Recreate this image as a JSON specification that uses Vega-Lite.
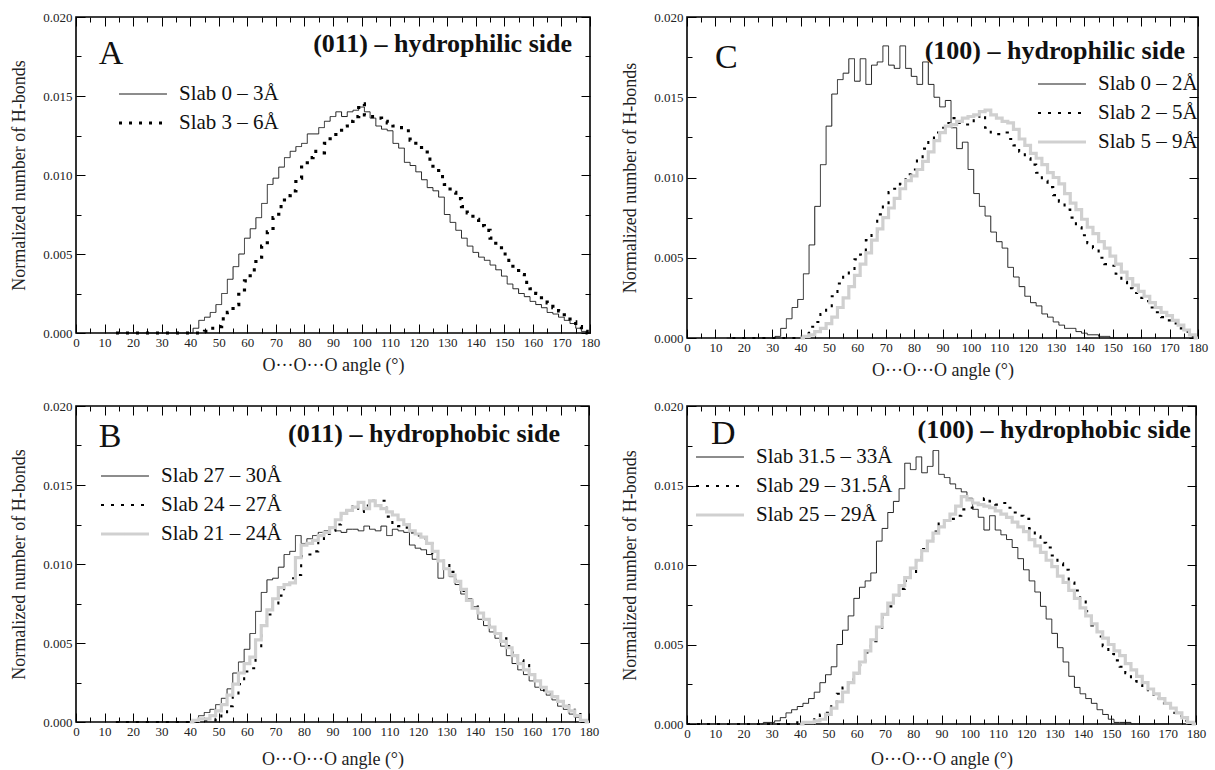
{
"$schema": "https://vega.github.io/schema/vega-lite/v6.json",
"background": "white",
"padding": {"left": 9, "top": 10, "right": 0, "bottom": 0},
"config": {
  "font": "Liberation Serif",
  "view": {"stroke": "#000", "strokeWidth": 1.6},
  "axis": {"grid": false, "domain": false, "labelFlush": false, "labelOverlap": false, "tickColor": "#000", "tickWidth": 1, "labelFont": "Liberation Serif", "labelFontSize": 13, "labelColor": "#222", "titleFont": "Liberation Serif", "titleFontSize": 18, "titleFontWeight": "normal", "titleColor": "#222"},
  "legend": {"symbolType": "stroke", "symbolSize": 2300, "labelFont": "Liberation Serif", "labelFontSize": 21, "labelColor": "#111", "labelOffset": 10, "clipHeight": 20, "rowPadding": 8, "padding": 0, "labelLimit": 300}
},
"resolve": {"scale": {"color": "independent", "strokeDash": "independent", "strokeWidth": "independent"}},
"datasets": {
"A": [
{"s":1,"x":14,"y":0},{"s":1,"x":16,"y":0},{"s":1,"x":18,"y":0},{"s":1,"x":20,"y":0},{"s":1,"x":22,"y":0},{"s":1,"x":24,"y":0},{"s":1,"x":26,"y":0},{"s":1,"x":28,"y":0},{"s":1,"x":30,"y":0},{"s":1,"x":32,"y":0},{"s":1,"x":34,"y":0},{"s":1,"x":36,"y":0},{"s":1,"x":38,"y":0},{"s":1,"x":40,"y":0},
{"s":1,"x":42,"y":0.0003},{"s":1,"x":44,"y":0.0008},{"s":1,"x":46,"y":0.0010},{"s":1,"x":48,"y":0.0013},{"s":1,"x":50,"y":0.0018},{"s":1,"x":52,"y":0.0025},{"s":1,"x":54,"y":0.0034},{"s":1,"x":56,"y":0.0042},{"s":1,"x":58,"y":0.0050},{"s":1,"x":60,"y":0.0060},{"s":1,"x":62,"y":0.0066},{"s":1,"x":64,"y":0.0073},{"s":1,"x":66,"y":0.0082},{"s":1,"x":68,"y":0.0094},{"s":1,"x":70,"y":0.0098},{"s":1,"x":72,"y":0.0105},{"s":1,"x":74,"y":0.0111},{"s":1,"x":76,"y":0.0115},{"s":1,"x":78,"y":0.0118},{"s":1,"x":80,"y":0.0120},{"s":1,"x":82,"y":0.0126},{"s":1,"x":84,"y":0.0126},{"s":1,"x":86,"y":0.0130},{"s":1,"x":88,"y":0.0134},{"s":1,"x":90,"y":0.0137},{"s":1,"x":92,"y":0.0140},{"s":1,"x":94,"y":0.0137},{"s":1,"x":96,"y":0.0140},{"s":1,"x":98,"y":0.0141},{"s":1,"x":100,"y":0.0143},{"s":1,"x":102,"y":0.0140},{"s":1,"x":104,"y":0.0136},{"s":1,"x":106,"y":0.0131},{"s":1,"x":108,"y":0.0129},{"s":1,"x":110,"y":0.0128},{"s":1,"x":112,"y":0.0120},{"s":1,"x":114,"y":0.0117},{"s":1,"x":116,"y":0.0108},{"s":1,"x":118,"y":0.0106},{"s":1,"x":120,"y":0.0102},{"s":1,"x":122,"y":0.0097},{"s":1,"x":124,"y":0.0092},{"s":1,"x":126,"y":0.0090},{"s":1,"x":128,"y":0.0086},{"s":1,"x":130,"y":0.0075},{"s":1,"x":132,"y":0.0070},{"s":1,"x":134,"y":0.0065},{"s":1,"x":136,"y":0.0060},{"s":1,"x":138,"y":0.0055},{"s":1,"x":140,"y":0.0051},{"s":1,"x":142,"y":0.0048},{"s":1,"x":144,"y":0.0046},{"s":1,"x":146,"y":0.0043},{"s":1,"x":148,"y":0.0040},{"s":1,"x":150,"y":0.0036},{"s":1,"x":152,"y":0.0031},{"s":1,"x":154,"y":0.0028},{"s":1,"x":156,"y":0.0025},{"s":1,"x":158,"y":0.0023},{"s":1,"x":160,"y":0.0020},{"s":1,"x":162,"y":0.0018},{"s":1,"x":164,"y":0.0016},{"s":1,"x":166,"y":0.0013},{"s":1,"x":168,"y":0.0012},{"s":1,"x":170,"y":0.0010},{"s":1,"x":172,"y":0.0008},{"s":1,"x":174,"y":0.0006},{"s":1,"x":176,"y":0.0003},{"s":1,"x":178,"y":0.0001},{"s":1,"x":180,"y":0},
{"s":2,"x":14,"y":0},{"s":2,"x":16,"y":0},{"s":2,"x":18,"y":0},{"s":2,"x":20,"y":0},{"s":2,"x":22,"y":0},{"s":2,"x":24,"y":0},{"s":2,"x":26,"y":0},{"s":2,"x":28,"y":0},{"s":2,"x":30,"y":0},{"s":2,"x":32,"y":0},{"s":2,"x":34,"y":0},{"s":2,"x":36,"y":0},{"s":2,"x":38,"y":0},{"s":2,"x":40,"y":0},{"s":2,"x":42,"y":0},{"s":2,"x":44,"y":0},
{"s":2,"x":46,"y":0.0001},{"s":2,"x":48,"y":0.0003},{"s":2,"x":50,"y":0.0004},{"s":2,"x":52,"y":0.0009},{"s":2,"x":54,"y":0.0013},{"s":2,"x":56,"y":0.0018},{"s":2,"x":58,"y":0.0026},{"s":2,"x":60,"y":0.0033},{"s":2,"x":62,"y":0.0040},{"s":2,"x":64,"y":0.0048},{"s":2,"x":66,"y":0.0055},{"s":2,"x":68,"y":0.0064},{"s":2,"x":70,"y":0.0073},{"s":2,"x":72,"y":0.0080},{"s":2,"x":74,"y":0.0087},{"s":2,"x":76,"y":0.0090},{"s":2,"x":78,"y":0.0098},{"s":2,"x":80,"y":0.0106},{"s":2,"x":82,"y":0.0111},{"s":2,"x":84,"y":0.0115},{"s":2,"x":86,"y":0.0114},{"s":2,"x":88,"y":0.0120},{"s":2,"x":90,"y":0.0124},{"s":2,"x":92,"y":0.0127},{"s":2,"x":94,"y":0.0131},{"s":2,"x":96,"y":0.0134},{"s":2,"x":98,"y":0.0137},{"s":2,"x":100,"y":0.0145},{"s":2,"x":102,"y":0.0138},{"s":2,"x":104,"y":0.0137},{"s":2,"x":106,"y":0.0136},{"s":2,"x":108,"y":0.0134},{"s":2,"x":110,"y":0.0133},{"s":2,"x":112,"y":0.0131},{"s":2,"x":114,"y":0.0130},{"s":2,"x":116,"y":0.0128},{"s":2,"x":118,"y":0.0122},{"s":2,"x":120,"y":0.0119},{"s":2,"x":122,"y":0.0116},{"s":2,"x":124,"y":0.0110},{"s":2,"x":126,"y":0.0104},{"s":2,"x":128,"y":0.0099},{"s":2,"x":130,"y":0.0094},{"s":2,"x":132,"y":0.0089},{"s":2,"x":134,"y":0.0085},{"s":2,"x":136,"y":0.0080},{"s":2,"x":138,"y":0.0076},{"s":2,"x":140,"y":0.0072},{"s":2,"x":142,"y":0.0068},{"s":2,"x":144,"y":0.0065},{"s":2,"x":146,"y":0.0060},{"s":2,"x":148,"y":0.0055},{"s":2,"x":150,"y":0.0050},{"s":2,"x":152,"y":0.0046},{"s":2,"x":154,"y":0.0041},{"s":2,"x":156,"y":0.0037},{"s":2,"x":158,"y":0.0032},{"s":2,"x":160,"y":0.0028},{"s":2,"x":162,"y":0.0025},{"s":2,"x":164,"y":0.0021},{"s":2,"x":166,"y":0.0019},{"s":2,"x":168,"y":0.0016},{"s":2,"x":170,"y":0.0014},{"s":2,"x":172,"y":0.0010},{"s":2,"x":174,"y":0.0007},{"s":2,"x":176,"y":0.0004},{"s":2,"x":178,"y":0.0001},{"s":2,"x":180,"y":0}
],
"B": [
{"s":1,"x":14,"y":0},{"s":1,"x":16,"y":0},{"s":1,"x":18,"y":0},{"s":1,"x":20,"y":0},{"s":1,"x":22,"y":0},{"s":1,"x":24,"y":0},{"s":1,"x":26,"y":0},{"s":1,"x":28,"y":0},{"s":1,"x":30,"y":0},{"s":1,"x":32,"y":0},{"s":1,"x":34,"y":0},{"s":1,"x":36,"y":0},{"s":1,"x":38,"y":0},{"s":1,"x":40,"y":0},
{"s":1,"x":42,"y":0.0001},{"s":1,"x":44,"y":0.0004},{"s":1,"x":46,"y":0.0006},{"s":1,"x":48,"y":0.0008},{"s":1,"x":50,"y":0.0011},{"s":1,"x":52,"y":0.0015},{"s":1,"x":54,"y":0.0021},{"s":1,"x":56,"y":0.0031},{"s":1,"x":58,"y":0.0038},{"s":1,"x":60,"y":0.0046},{"s":1,"x":62,"y":0.0056},{"s":1,"x":64,"y":0.0070},{"s":1,"x":66,"y":0.0082},{"s":1,"x":68,"y":0.0090},{"s":1,"x":70,"y":0.0091},{"s":1,"x":72,"y":0.0098},{"s":1,"x":74,"y":0.0106},{"s":1,"x":76,"y":0.0108},{"s":1,"x":78,"y":0.0118},{"s":1,"x":80,"y":0.0113},{"s":1,"x":82,"y":0.0116},{"s":1,"x":84,"y":0.0118},{"s":1,"x":86,"y":0.0120},{"s":1,"x":88,"y":0.0121},{"s":1,"x":90,"y":0.0123},{"s":1,"x":92,"y":0.0121},{"s":1,"x":94,"y":0.0120},{"s":1,"x":96,"y":0.0122},{"s":1,"x":98,"y":0.0122},{"s":1,"x":100,"y":0.0121},{"s":1,"x":102,"y":0.0124},{"s":1,"x":104,"y":0.0122},{"s":1,"x":106,"y":0.0121},{"s":1,"x":108,"y":0.0124},{"s":1,"x":110,"y":0.0118},{"s":1,"x":112,"y":0.0122},{"s":1,"x":114,"y":0.0121},{"s":1,"x":116,"y":0.0120},{"s":1,"x":118,"y":0.0112},{"s":1,"x":120,"y":0.0110},{"s":1,"x":122,"y":0.0109},{"s":1,"x":124,"y":0.0106},{"s":1,"x":126,"y":0.0103},{"s":1,"x":128,"y":0.0091},{"s":1,"x":130,"y":0.0097},{"s":1,"x":132,"y":0.0092},{"s":1,"x":134,"y":0.0087},{"s":1,"x":136,"y":0.0081},{"s":1,"x":138,"y":0.0078},{"s":1,"x":140,"y":0.0073},{"s":1,"x":142,"y":0.0065},{"s":1,"x":144,"y":0.0061},{"s":1,"x":146,"y":0.0057},{"s":1,"x":148,"y":0.0053},{"s":1,"x":150,"y":0.0048},{"s":1,"x":152,"y":0.0042},{"s":1,"x":154,"y":0.0037},{"s":1,"x":156,"y":0.0033},{"s":1,"x":158,"y":0.0030},{"s":1,"x":160,"y":0.0026},{"s":1,"x":162,"y":0.0022},{"s":1,"x":164,"y":0.0020},{"s":1,"x":166,"y":0.0017},{"s":1,"x":168,"y":0.0014},{"s":1,"x":170,"y":0.0010},{"s":1,"x":172,"y":0.0008},{"s":1,"x":174,"y":0.0005},{"s":1,"x":176,"y":0.0003},{"s":1,"x":178,"y":0.0001},{"s":1,"x":180,"y":0},
{"s":2,"x":14,"y":0},{"s":2,"x":16,"y":0},{"s":2,"x":18,"y":0},{"s":2,"x":20,"y":0},{"s":2,"x":22,"y":0},{"s":2,"x":24,"y":0},{"s":2,"x":26,"y":0},{"s":2,"x":28,"y":0},{"s":2,"x":30,"y":0},{"s":2,"x":32,"y":0},{"s":2,"x":34,"y":0},{"s":2,"x":36,"y":0},{"s":2,"x":38,"y":0},{"s":2,"x":40,"y":0},{"s":2,"x":42,"y":0},{"s":2,"x":44,"y":0},
{"s":2,"x":46,"y":0.0001},{"s":2,"x":48,"y":0.0001},{"s":2,"x":50,"y":0.0002},{"s":2,"x":52,"y":0.0005},{"s":2,"x":54,"y":0.0010},{"s":2,"x":56,"y":0.0016},{"s":2,"x":58,"y":0.0024},{"s":2,"x":60,"y":0.0032},{"s":2,"x":62,"y":0.0034},{"s":2,"x":64,"y":0.0046},{"s":2,"x":66,"y":0.0061},{"s":2,"x":68,"y":0.0068},{"s":2,"x":70,"y":0.0075},{"s":2,"x":72,"y":0.0080},{"s":2,"x":74,"y":0.0087},{"s":2,"x":76,"y":0.0091},{"s":2,"x":78,"y":0.0093},{"s":2,"x":80,"y":0.0105},{"s":2,"x":82,"y":0.0106},{"s":2,"x":84,"y":0.0108},{"s":2,"x":86,"y":0.0114},{"s":2,"x":88,"y":0.0119},{"s":2,"x":90,"y":0.0121},{"s":2,"x":92,"y":0.0125},{"s":2,"x":94,"y":0.0131},{"s":2,"x":96,"y":0.0134},{"s":2,"x":98,"y":0.0137},{"s":2,"x":100,"y":0.0133},{"s":2,"x":102,"y":0.0137},{"s":2,"x":104,"y":0.0140},{"s":2,"x":106,"y":0.0137},{"s":2,"x":108,"y":0.0140},{"s":2,"x":110,"y":0.0130},{"s":2,"x":112,"y":0.0126},{"s":2,"x":114,"y":0.0124},{"s":2,"x":116,"y":0.0123},{"s":2,"x":118,"y":0.0120},{"s":2,"x":120,"y":0.0118},{"s":2,"x":122,"y":0.0116},{"s":2,"x":124,"y":0.0113},{"s":2,"x":126,"y":0.0105},{"s":2,"x":128,"y":0.0103},{"s":2,"x":130,"y":0.0100},{"s":2,"x":132,"y":0.0095},{"s":2,"x":134,"y":0.0090},{"s":2,"x":136,"y":0.0083},{"s":2,"x":138,"y":0.0078},{"s":2,"x":140,"y":0.0073},{"s":2,"x":142,"y":0.0069},{"s":2,"x":144,"y":0.0065},{"s":2,"x":146,"y":0.0061},{"s":2,"x":148,"y":0.0058},{"s":2,"x":150,"y":0.0053},{"s":2,"x":152,"y":0.0048},{"s":2,"x":154,"y":0.0044},{"s":2,"x":156,"y":0.0039},{"s":2,"x":158,"y":0.0036},{"s":2,"x":160,"y":0.0030},{"s":2,"x":162,"y":0.0025},{"s":2,"x":164,"y":0.0020},{"s":2,"x":166,"y":0.0018},{"s":2,"x":168,"y":0.0017},{"s":2,"x":170,"y":0.0015},{"s":2,"x":172,"y":0.0012},{"s":2,"x":174,"y":0.0009},{"s":2,"x":176,"y":0.0005},{"s":2,"x":178,"y":0.0001},{"s":2,"x":180,"y":0},
{"s":3,"x":40,"y":0},{"s":3,"x":42,"y":0.0001},{"s":3,"x":44,"y":0.0002},{"s":3,"x":46,"y":0.0002},{"s":3,"x":48,"y":0.0004},{"s":3,"x":50,"y":0.0007},{"s":3,"x":52,"y":0.0011},{"s":3,"x":54,"y":0.0017},{"s":3,"x":56,"y":0.0024},{"s":3,"x":58,"y":0.0031},{"s":3,"x":60,"y":0.0037},{"s":3,"x":62,"y":0.0041},{"s":3,"x":64,"y":0.0052},{"s":3,"x":66,"y":0.0061},{"s":3,"x":68,"y":0.0071},{"s":3,"x":70,"y":0.0078},{"s":3,"x":72,"y":0.0085},{"s":3,"x":74,"y":0.0087},{"s":3,"x":76,"y":0.0088},{"s":3,"x":78,"y":0.0104},{"s":3,"x":80,"y":0.0112},{"s":3,"x":82,"y":0.0113},{"s":3,"x":84,"y":0.0115},{"s":3,"x":86,"y":0.0118},{"s":3,"x":88,"y":0.0120},{"s":3,"x":90,"y":0.0123},{"s":3,"x":92,"y":0.0128},{"s":3,"x":94,"y":0.0132},{"s":3,"x":96,"y":0.0134},{"s":3,"x":98,"y":0.0136},{"s":3,"x":100,"y":0.0139},{"s":3,"x":102,"y":0.0135},{"s":3,"x":104,"y":0.0140},{"s":3,"x":106,"y":0.0137},{"s":3,"x":108,"y":0.0135},{"s":3,"x":110,"y":0.0133},{"s":3,"x":112,"y":0.0131},{"s":3,"x":114,"y":0.0128},{"s":3,"x":116,"y":0.0125},{"s":3,"x":118,"y":0.0121},{"s":3,"x":120,"y":0.0119},{"s":3,"x":122,"y":0.0117},{"s":3,"x":124,"y":0.0113},{"s":3,"x":126,"y":0.0108},{"s":3,"x":128,"y":0.0102},{"s":3,"x":130,"y":0.0097},{"s":3,"x":132,"y":0.0093},{"s":3,"x":134,"y":0.0089},{"s":3,"x":136,"y":0.0084},{"s":3,"x":138,"y":0.0077},{"s":3,"x":140,"y":0.0072},{"s":3,"x":142,"y":0.0069},{"s":3,"x":144,"y":0.0065},{"s":3,"x":146,"y":0.0060},{"s":3,"x":148,"y":0.0056},{"s":3,"x":150,"y":0.0051},{"s":3,"x":152,"y":0.0047},{"s":3,"x":154,"y":0.0042},{"s":3,"x":156,"y":0.0037},{"s":3,"x":158,"y":0.0033},{"s":3,"x":160,"y":0.0030},{"s":3,"x":162,"y":0.0026},{"s":3,"x":164,"y":0.0022},{"s":3,"x":166,"y":0.0019},{"s":3,"x":168,"y":0.0016},{"s":3,"x":170,"y":0.0013},{"s":3,"x":172,"y":0.0010},{"s":3,"x":174,"y":0.0007},{"s":3,"x":176,"y":0.0004},{"s":3,"x":178,"y":0.0001},{"s":3,"x":180,"y":0}
],
"C": [
{"s":1,"x":14,"y":0},{"s":1,"x":16,"y":0},{"s":1,"x":18,"y":0},{"s":1,"x":20,"y":0},{"s":1,"x":22,"y":0},{"s":1,"x":24,"y":0},{"s":1,"x":26,"y":0},{"s":1,"x":28,"y":0},{"s":1,"x":30,"y":0},
{"s":1,"x":32,"y":0.0001},{"s":1,"x":34,"y":0.0006},{"s":1,"x":36,"y":0.0012},{"s":1,"x":38,"y":0.0019},{"s":1,"x":40,"y":0.0024},{"s":1,"x":42,"y":0.0040},{"s":1,"x":44,"y":0.0058},{"s":1,"x":46,"y":0.0082},{"s":1,"x":48,"y":0.0108},{"s":1,"x":50,"y":0.0132},{"s":1,"x":52,"y":0.0152},{"s":1,"x":54,"y":0.0161},{"s":1,"x":56,"y":0.0165},{"s":1,"x":58,"y":0.0174},{"s":1,"x":60,"y":0.0160},{"s":1,"x":62,"y":0.0174},{"s":1,"x":64,"y":0.0158},{"s":1,"x":66,"y":0.0170},{"s":1,"x":68,"y":0.0172},{"s":1,"x":70,"y":0.0182},{"s":1,"x":72,"y":0.0170},{"s":1,"x":74,"y":0.0168},{"s":1,"x":76,"y":0.0182},{"s":1,"x":78,"y":0.0168},{"s":1,"x":80,"y":0.0163},{"s":1,"x":82,"y":0.0158},{"s":1,"x":84,"y":0.0172},{"s":1,"x":86,"y":0.0158},{"s":1,"x":88,"y":0.0150},{"s":1,"x":90,"y":0.0144},{"s":1,"x":92,"y":0.0148},{"s":1,"x":94,"y":0.0131},{"s":1,"x":96,"y":0.0118},{"s":1,"x":98,"y":0.0122},{"s":1,"x":100,"y":0.0105},{"s":1,"x":102,"y":0.0090},{"s":1,"x":104,"y":0.0082},{"s":1,"x":106,"y":0.0076},{"s":1,"x":108,"y":0.0066},{"s":1,"x":110,"y":0.0060},{"s":1,"x":112,"y":0.0056},{"s":1,"x":114,"y":0.0044},{"s":1,"x":116,"y":0.0038},{"s":1,"x":118,"y":0.0032},{"s":1,"x":120,"y":0.0026},{"s":1,"x":122,"y":0.0022},{"s":1,"x":124,"y":0.0020},{"s":1,"x":126,"y":0.0015},{"s":1,"x":128,"y":0.0013},{"s":1,"x":130,"y":0.0010},{"s":1,"x":132,"y":0.0008},{"s":1,"x":134,"y":0.0006},{"s":1,"x":136,"y":0.0006},{"s":1,"x":138,"y":0.0004},{"s":1,"x":140,"y":0.0003},{"s":1,"x":142,"y":0.0002},{"s":1,"x":144,"y":0.0002},{"s":1,"x":146,"y":0.0001},{"s":1,"x":148,"y":0.0001},{"s":1,"x":150,"y":0},{"s":1,"x":152,"y":0},{"s":1,"x":154,"y":0},{"s":1,"x":156,"y":0},{"s":1,"x":158,"y":0},{"s":1,"x":160,"y":0},
{"s":2,"x":16,"y":0},{"s":2,"x":18,"y":0},{"s":2,"x":20,"y":0},{"s":2,"x":22,"y":0},{"s":2,"x":24,"y":0},{"s":2,"x":26,"y":0},{"s":2,"x":28,"y":0},{"s":2,"x":30,"y":0},{"s":2,"x":32,"y":0},{"s":2,"x":34,"y":0},{"s":2,"x":36,"y":0},{"s":2,"x":38,"y":0},
{"s":2,"x":40,"y":0.0001},{"s":2,"x":42,"y":0.0003},{"s":2,"x":44,"y":0.0007},{"s":2,"x":46,"y":0.0010},{"s":2,"x":48,"y":0.0015},{"s":2,"x":50,"y":0.0019},{"s":2,"x":52,"y":0.0026},{"s":2,"x":54,"y":0.0034},{"s":2,"x":56,"y":0.0039},{"s":2,"x":58,"y":0.0042},{"s":2,"x":60,"y":0.0049},{"s":2,"x":62,"y":0.0052},{"s":2,"x":64,"y":0.0061},{"s":2,"x":66,"y":0.0066},{"s":2,"x":68,"y":0.0077},{"s":2,"x":70,"y":0.0083},{"s":2,"x":72,"y":0.0091},{"s":2,"x":74,"y":0.0093},{"s":2,"x":76,"y":0.0096},{"s":2,"x":78,"y":0.0102},{"s":2,"x":80,"y":0.0105},{"s":2,"x":82,"y":0.0112},{"s":2,"x":84,"y":0.0118},{"s":2,"x":86,"y":0.0123},{"s":2,"x":88,"y":0.0128},{"s":2,"x":90,"y":0.0131},{"s":2,"x":92,"y":0.0134},{"s":2,"x":94,"y":0.0137},{"s":2,"x":96,"y":0.0134},{"s":2,"x":98,"y":0.0133},{"s":2,"x":100,"y":0.0134},{"s":2,"x":102,"y":0.0137},{"s":2,"x":104,"y":0.0139},{"s":2,"x":106,"y":0.0131},{"s":2,"x":108,"y":0.0128},{"s":2,"x":110,"y":0.0127},{"s":2,"x":112,"y":0.0128},{"s":2,"x":114,"y":0.0124},{"s":2,"x":116,"y":0.0120},{"s":2,"x":118,"y":0.0116},{"s":2,"x":120,"y":0.0112},{"s":2,"x":122,"y":0.0108},{"s":2,"x":124,"y":0.0103},{"s":2,"x":126,"y":0.0098},{"s":2,"x":128,"y":0.0094},{"s":2,"x":130,"y":0.0089},{"s":2,"x":132,"y":0.0085},{"s":2,"x":134,"y":0.0080},{"s":2,"x":136,"y":0.0075},{"s":2,"x":138,"y":0.0069},{"s":2,"x":140,"y":0.0064},{"s":2,"x":142,"y":0.0059},{"s":2,"x":144,"y":0.0056},{"s":2,"x":146,"y":0.0050},{"s":2,"x":148,"y":0.0046},{"s":2,"x":150,"y":0.0045},{"s":2,"x":152,"y":0.0040},{"s":2,"x":154,"y":0.0035},{"s":2,"x":156,"y":0.0031},{"s":2,"x":158,"y":0.0028},{"s":2,"x":160,"y":0.0025},{"s":2,"x":162,"y":0.0023},{"s":2,"x":164,"y":0.0019},{"s":2,"x":166,"y":0.0016},{"s":2,"x":168,"y":0.0013},{"s":2,"x":170,"y":0.0011},{"s":2,"x":172,"y":0.0009},{"s":2,"x":174,"y":0.0006},{"s":2,"x":176,"y":0.0004},{"s":2,"x":178,"y":0.0001},{"s":2,"x":180,"y":0},
{"s":3,"x":40,"y":0},{"s":3,"x":42,"y":0.0001},{"s":3,"x":44,"y":0.0002},{"s":3,"x":46,"y":0.0004},{"s":3,"x":48,"y":0.0006},{"s":3,"x":50,"y":0.0009},{"s":3,"x":52,"y":0.0013},{"s":3,"x":54,"y":0.0019},{"s":3,"x":56,"y":0.0025},{"s":3,"x":58,"y":0.0032},{"s":3,"x":60,"y":0.0039},{"s":3,"x":62,"y":0.0046},{"s":3,"x":64,"y":0.0053},{"s":3,"x":66,"y":0.0061},{"s":3,"x":68,"y":0.0068},{"s":3,"x":70,"y":0.0075},{"s":3,"x":72,"y":0.0081},{"s":3,"x":74,"y":0.0087},{"s":3,"x":76,"y":0.0093},{"s":3,"x":78,"y":0.0098},{"s":3,"x":80,"y":0.0101},{"s":3,"x":82,"y":0.0105},{"s":3,"x":84,"y":0.0110},{"s":3,"x":86,"y":0.0116},{"s":3,"x":88,"y":0.0123},{"s":3,"x":90,"y":0.0128},{"s":3,"x":92,"y":0.0132},{"s":3,"x":94,"y":0.0133},{"s":3,"x":96,"y":0.0135},{"s":3,"x":98,"y":0.0137},{"s":3,"x":100,"y":0.0138},{"s":3,"x":102,"y":0.0139},{"s":3,"x":104,"y":0.0141},{"s":3,"x":106,"y":0.0142},{"s":3,"x":108,"y":0.0139},{"s":3,"x":110,"y":0.0137},{"s":3,"x":112,"y":0.0135},{"s":3,"x":114,"y":0.0134},{"s":3,"x":116,"y":0.0130},{"s":3,"x":118,"y":0.0124},{"s":3,"x":120,"y":0.0120},{"s":3,"x":122,"y":0.0115},{"s":3,"x":124,"y":0.0112},{"s":3,"x":126,"y":0.0108},{"s":3,"x":128,"y":0.0103},{"s":3,"x":130,"y":0.0100},{"s":3,"x":132,"y":0.0096},{"s":3,"x":134,"y":0.0090},{"s":3,"x":136,"y":0.0084},{"s":3,"x":138,"y":0.0080},{"s":3,"x":140,"y":0.0074},{"s":3,"x":142,"y":0.0069},{"s":3,"x":144,"y":0.0065},{"s":3,"x":146,"y":0.0060},{"s":3,"x":148,"y":0.0056},{"s":3,"x":150,"y":0.0051},{"s":3,"x":152,"y":0.0046},{"s":3,"x":154,"y":0.0041},{"s":3,"x":156,"y":0.0037},{"s":3,"x":158,"y":0.0033},{"s":3,"x":160,"y":0.0029},{"s":3,"x":162,"y":0.0026},{"s":3,"x":164,"y":0.0022},{"s":3,"x":166,"y":0.0019},{"s":3,"x":168,"y":0.0016},{"s":3,"x":170,"y":0.0014},{"s":3,"x":172,"y":0.0011},{"s":3,"x":174,"y":0.0008},{"s":3,"x":176,"y":0.0005},{"s":3,"x":178,"y":0.0002},{"s":3,"x":180,"y":0}
],
"D": [
{"s":1,"x":26,"y":0},{"s":1,"x":28,"y":0.0001},{"s":1,"x":30,"y":0.0001},{"s":1,"x":32,"y":0.0002},{"s":1,"x":34,"y":0.0004},{"s":1,"x":36,"y":0.0007},{"s":1,"x":38,"y":0.0009},{"s":1,"x":40,"y":0.0011},{"s":1,"x":42,"y":0.0013},{"s":1,"x":44,"y":0.0016},{"s":1,"x":46,"y":0.0020},{"s":1,"x":48,"y":0.0026},{"s":1,"x":50,"y":0.0031},{"s":1,"x":52,"y":0.0036},{"s":1,"x":54,"y":0.0050},{"s":1,"x":56,"y":0.0059},{"s":1,"x":58,"y":0.0068},{"s":1,"x":60,"y":0.0079},{"s":1,"x":62,"y":0.0086},{"s":1,"x":64,"y":0.0090},{"s":1,"x":66,"y":0.0095},{"s":1,"x":68,"y":0.0115},{"s":1,"x":70,"y":0.0123},{"s":1,"x":72,"y":0.0133},{"s":1,"x":74,"y":0.0140},{"s":1,"x":76,"y":0.0148},{"s":1,"x":78,"y":0.0164},{"s":1,"x":80,"y":0.0160},{"s":1,"x":82,"y":0.0168},{"s":1,"x":84,"y":0.0158},{"s":1,"x":86,"y":0.0162},{"s":1,"x":88,"y":0.0172},{"s":1,"x":90,"y":0.0157},{"s":1,"x":92,"y":0.0155},{"s":1,"x":94,"y":0.0151},{"s":1,"x":96,"y":0.0148},{"s":1,"x":98,"y":0.0146},{"s":1,"x":100,"y":0.0142},{"s":1,"x":102,"y":0.0135},{"s":1,"x":104,"y":0.0130},{"s":1,"x":106,"y":0.0122},{"s":1,"x":108,"y":0.0131},{"s":1,"x":110,"y":0.0122},{"s":1,"x":112,"y":0.0119},{"s":1,"x":114,"y":0.0116},{"s":1,"x":116,"y":0.0111},{"s":1,"x":118,"y":0.0104},{"s":1,"x":120,"y":0.0097},{"s":1,"x":122,"y":0.0090},{"s":1,"x":124,"y":0.0083},{"s":1,"x":126,"y":0.0074},{"s":1,"x":128,"y":0.0066},{"s":1,"x":130,"y":0.0057},{"s":1,"x":132,"y":0.0048},{"s":1,"x":134,"y":0.0039},{"s":1,"x":136,"y":0.0030},{"s":1,"x":138,"y":0.0023},{"s":1,"x":140,"y":0.0019},{"s":1,"x":142,"y":0.0016},{"s":1,"x":144,"y":0.0013},{"s":1,"x":146,"y":0.0009},{"s":1,"x":148,"y":0.0006},{"s":1,"x":150,"y":0.0003},{"s":1,"x":152,"y":0.0001},{"s":1,"x":154,"y":0.0001},{"s":1,"x":156,"y":0.0001},{"s":1,"x":158,"y":0},{"s":1,"x":160,"y":0},{"s":1,"x":162,"y":0},{"s":1,"x":164,"y":0},{"s":1,"x":166,"y":0},{"s":1,"x":168,"y":0},{"s":1,"x":170,"y":0},
{"s":2,"x":0,"y":0},{"s":2,"x":2,"y":0},{"s":2,"x":4,"y":0},{"s":2,"x":6,"y":0},{"s":2,"x":8,"y":0},{"s":2,"x":10,"y":0},{"s":2,"x":12,"y":0},{"s":2,"x":14,"y":0},{"s":2,"x":16,"y":0},{"s":2,"x":18,"y":0},{"s":2,"x":20,"y":0},{"s":2,"x":22,"y":0},{"s":2,"x":24,"y":0},{"s":2,"x":26,"y":0},{"s":2,"x":28,"y":0},{"s":2,"x":30,"y":0},{"s":2,"x":32,"y":0},{"s":2,"x":34,"y":0},{"s":2,"x":36,"y":0},{"s":2,"x":38,"y":0},
{"s":2,"x":40,"y":0.0001},{"s":2,"x":42,"y":0.0001},{"s":2,"x":44,"y":0.0002},{"s":2,"x":46,"y":0.0004},{"s":2,"x":48,"y":0.0006},{"s":2,"x":50,"y":0.0007},{"s":2,"x":52,"y":0.0012},{"s":2,"x":54,"y":0.0019},{"s":2,"x":56,"y":0.0023},{"s":2,"x":58,"y":0.0028},{"s":2,"x":60,"y":0.0032},{"s":2,"x":62,"y":0.0037},{"s":2,"x":64,"y":0.0045},{"s":2,"x":66,"y":0.0052},{"s":2,"x":68,"y":0.0059},{"s":2,"x":70,"y":0.0067},{"s":2,"x":72,"y":0.0074},{"s":2,"x":74,"y":0.0081},{"s":2,"x":76,"y":0.0085},{"s":2,"x":78,"y":0.0090},{"s":2,"x":80,"y":0.0094},{"s":2,"x":82,"y":0.0103},{"s":2,"x":84,"y":0.0110},{"s":2,"x":86,"y":0.0114},{"s":2,"x":88,"y":0.0121},{"s":2,"x":90,"y":0.0126},{"s":2,"x":92,"y":0.0128},{"s":2,"x":94,"y":0.0129},{"s":2,"x":96,"y":0.0131},{"s":2,"x":98,"y":0.0135},{"s":2,"x":100,"y":0.0136},{"s":2,"x":102,"y":0.0137},{"s":2,"x":104,"y":0.0139},{"s":2,"x":106,"y":0.0142},{"s":2,"x":108,"y":0.0140},{"s":2,"x":110,"y":0.0138},{"s":2,"x":112,"y":0.0139},{"s":2,"x":114,"y":0.0136},{"s":2,"x":116,"y":0.0133},{"s":2,"x":118,"y":0.0131},{"s":2,"x":120,"y":0.0129},{"s":2,"x":122,"y":0.0123},{"s":2,"x":124,"y":0.0118},{"s":2,"x":126,"y":0.0114},{"s":2,"x":128,"y":0.0111},{"s":2,"x":130,"y":0.0106},{"s":2,"x":132,"y":0.0101},{"s":2,"x":134,"y":0.0097},{"s":2,"x":136,"y":0.0089},{"s":2,"x":138,"y":0.0084},{"s":2,"x":140,"y":0.0077},{"s":2,"x":142,"y":0.0071},{"s":2,"x":144,"y":0.0062},{"s":2,"x":146,"y":0.0055},{"s":2,"x":148,"y":0.0049},{"s":2,"x":150,"y":0.0044},{"s":2,"x":152,"y":0.0040},{"s":2,"x":154,"y":0.0036},{"s":2,"x":156,"y":0.0032},{"s":2,"x":158,"y":0.0027},{"s":2,"x":160,"y":0.0025},{"s":2,"x":162,"y":0.0022},{"s":2,"x":164,"y":0.0019},{"s":2,"x":166,"y":0.0016},{"s":2,"x":168,"y":0.0013},{"s":2,"x":170,"y":0.0011},{"s":2,"x":172,"y":0.0007},{"s":2,"x":174,"y":0.0005},{"s":2,"x":176,"y":0.0002},{"s":2,"x":178,"y":0.0001},{"s":2,"x":180,"y":0},
{"s":3,"x":40,"y":0},{"s":3,"x":42,"y":0.0001},{"s":3,"x":44,"y":0.0001},{"s":3,"x":46,"y":0.0002},{"s":3,"x":48,"y":0.0003},{"s":3,"x":50,"y":0.0006},{"s":3,"x":52,"y":0.0010},{"s":3,"x":54,"y":0.0014},{"s":3,"x":56,"y":0.0020},{"s":3,"x":58,"y":0.0026},{"s":3,"x":60,"y":0.0032},{"s":3,"x":62,"y":0.0039},{"s":3,"x":64,"y":0.0046},{"s":3,"x":66,"y":0.0053},{"s":3,"x":68,"y":0.0061},{"s":3,"x":70,"y":0.0069},{"s":3,"x":72,"y":0.0076},{"s":3,"x":74,"y":0.0081},{"s":3,"x":76,"y":0.0087},{"s":3,"x":78,"y":0.0092},{"s":3,"x":80,"y":0.0098},{"s":3,"x":82,"y":0.0103},{"s":3,"x":84,"y":0.0109},{"s":3,"x":86,"y":0.0115},{"s":3,"x":88,"y":0.0120},{"s":3,"x":90,"y":0.0124},{"s":3,"x":92,"y":0.0128},{"s":3,"x":94,"y":0.0132},{"s":3,"x":96,"y":0.0137},{"s":3,"x":98,"y":0.0143},{"s":3,"x":100,"y":0.0141},{"s":3,"x":102,"y":0.0139},{"s":3,"x":104,"y":0.0138},{"s":3,"x":106,"y":0.0137},{"s":3,"x":108,"y":0.0136},{"s":3,"x":110,"y":0.0134},{"s":3,"x":112,"y":0.0132},{"s":3,"x":114,"y":0.0130},{"s":3,"x":116,"y":0.0127},{"s":3,"x":118,"y":0.0124},{"s":3,"x":120,"y":0.0121},{"s":3,"x":122,"y":0.0116},{"s":3,"x":124,"y":0.0112},{"s":3,"x":126,"y":0.0108},{"s":3,"x":128,"y":0.0103},{"s":3,"x":130,"y":0.0099},{"s":3,"x":132,"y":0.0093},{"s":3,"x":134,"y":0.0089},{"s":3,"x":136,"y":0.0084},{"s":3,"x":138,"y":0.0079},{"s":3,"x":140,"y":0.0073},{"s":3,"x":142,"y":0.0068},{"s":3,"x":144,"y":0.0063},{"s":3,"x":146,"y":0.0058},{"s":3,"x":148,"y":0.0054},{"s":3,"x":150,"y":0.0050},{"s":3,"x":152,"y":0.0046},{"s":3,"x":154,"y":0.0043},{"s":3,"x":156,"y":0.0038},{"s":3,"x":158,"y":0.0034},{"s":3,"x":160,"y":0.0030},{"s":3,"x":162,"y":0.0026},{"s":3,"x":164,"y":0.0022},{"s":3,"x":166,"y":0.0019},{"s":3,"x":168,"y":0.0016},{"s":3,"x":170,"y":0.0013},{"s":3,"x":172,"y":0.0010},{"s":3,"x":174,"y":0.0007},{"s":3,"x":176,"y":0.0004},{"s":3,"x":178,"y":0.0001},{"s":3,"x":180,"y":0}
]
},
"hconcat": [
{"vconcat": [
{
 "width": 514, "height": 316,
 "data": {"name": "A"},
 "resolve": {"axis": {"x": "independent", "y": "independent"}},
 "layer": [
  {"mark": {"type": "line", "interpolate": "step", "strokeCap": "butt"},
   "encoding": {
    "x": {"field": "x", "type": "quantitative", "scale": {"domain": [0, 180], "nice": false, "zero": false}, "axis": {"orient": "bottom", "values": [0,10,20,30,40,50,60,70,80,90,100,110,120,130,140,150,160,170,180], "ticks": false, "labelPadding": 3, "title": "O···O···O angle (°)", "titlePadding": 7}},
    "y": {"field": "y", "type": "quantitative", "scale": {"domain": [0, 0.02], "nice": false}, "axis": {"orient": "left", "values": [0,0.005,0.01,0.015,0.02], "format": ".3f", "ticks": false, "labelPadding": 4, "title": "Normalized number of H-bonds", "titlePadding": 14}},
    "color": {"field": "s", "type": "ordinal", "scale": {"domain": [1,2], "range": ["#1a1a1a", "#000000"]}, "legend": {"title": null, "orient": "none", "legendX": 41, "legendY": 67, "labelExpr": "datum.value == 1 ? 'Slab 0 – 3Å' : 'Slab 3 – 6Å'"}},
    "strokeDash": {"field": "s", "type": "ordinal", "scale": {"domain": [1,2], "range": [[1,0],[3,7]]}, "legend": {"title": null, "orient": "none", "legendX": 41, "legendY": 67, "labelExpr": "datum.value == 1 ? 'Slab 0 – 3Å' : 'Slab 3 – 6Å'"}},
    "strokeWidth": {"field": "s", "type": "ordinal", "scale": {"domain": [1,2], "range": [1,3.2]}, "legend": {"title": null, "orient": "none", "legendX": 41, "legendY": 67, "labelExpr": "datum.value == 1 ? 'Slab 0 – 3Å' : 'Slab 3 – 6Å'"}}
   }},
  {"mark": {"type": "line", "strokeOpacity": 0},
   "encoding": {
    "x": {"field": "x", "type": "quantitative", "scale": {"domain": [0, 180], "nice": false, "zero": false}, "axis": {"orient": "bottom", "values": [0,10,20,30,40,50,60,70,80,90,100,110,120,130,140,150,160,170,180], "tickSize": -9, "labels": false, "title": null}},
    "y": {"field": "y", "type": "quantitative", "scale": {"domain": [0, 0.02], "nice": false}, "axis": {"orient": "left", "values": [0,0.005,0.01,0.015,0.02], "tickSize": -9, "labels": false, "title": null}}
   }},
  {"mark": {"type": "line", "strokeOpacity": 0},
   "encoding": {
    "x": {"field": "x", "type": "quantitative", "scale": {"domain": [0, 180], "nice": false, "zero": false}, "axis": {"orient": "bottom", "values": [5,15,25,35,45,55,65,75,85,95,105,115,125,135,145,155,165,175], "tickSize": -5, "labels": false, "title": null}},
    "y": {"field": "y", "type": "quantitative", "scale": {"domain": [0, 0.02], "nice": false}, "axis": {"orient": "left", "values": [0.0025,0.0075,0.0125,0.0175], "tickSize": -5, "labels": false, "title": null}}
   }},
  {"mark": {"type": "line", "strokeOpacity": 0},
   "encoding": {
    "x": {"field": "x", "type": "quantitative", "scale": {"domain": [0, 180], "nice": false, "zero": false}, "axis": {"orient": "top", "values": [0,10,20,30,40,50,60,70,80,90,100,110,120,130,140,150,160,170,180], "tickSize": -9, "labels": false, "title": null}},
    "y": {"field": "y", "type": "quantitative", "scale": {"domain": [0, 0.02], "nice": false}, "axis": {"orient": "right", "values": [0,0.005,0.01,0.015,0.02], "tickSize": -9, "labels": false, "title": null}}
   }},
  {"mark": {"type": "line", "strokeOpacity": 0},
   "encoding": {
    "x": {"field": "x", "type": "quantitative", "scale": {"domain": [0, 180], "nice": false, "zero": false}, "axis": {"orient": "top", "values": [5,15,25,35,45,55,65,75,85,95,105,115,125,135,145,155,165,175], "tickSize": -5, "labels": false, "title": null}},
    "y": {"field": "y", "type": "quantitative", "scale": {"domain": [0, 0.02], "nice": false}, "axis": {"orient": "right", "values": [0.0025,0.0075,0.0125,0.0175], "tickSize": -5, "labels": false, "title": null}}
   }},
  {"data": {"values": [{"t": "A"}]},
   "mark": {"type": "text", "align": "left", "baseline": "alphabetic", "fontSize": 34, "color": "#111"},
   "encoding": {"text": {"field": "t"},
    "x": {"datum": 8, "type": "quantitative", "scale": {"domain": [0, 180], "nice": false, "zero": false}, "axis": null},
    "y": {"datum": 0.0170, "type": "quantitative", "scale": {"domain": [0, 0.02], "nice": false}, "axis": null}}},
  {"data": {"values": [{"t": "(011) – hydrophilic side"}]},
   "mark": {"type": "text", "align": "right", "baseline": "alphabetic", "fontSize": 26, "fontWeight": "bold", "color": "#111"},
   "encoding": {"text": {"field": "t"},
    "x": {"datum": 173.7, "type": "quantitative", "scale": {"domain": [0, 180], "nice": false, "zero": false}, "axis": null},
    "y": {"datum": 0.0178, "type": "quantitative", "scale": {"domain": [0, 0.02], "nice": false}, "axis": null}}}
 ]
},
{
 "width": 513, "height": 316,
 "data": {"name": "B"},
 "resolve": {"axis": {"x": "independent", "y": "independent"}},
 "layer": [
  {"mark": {"type": "line", "interpolate": "step", "strokeCap": "butt"},
   "encoding": {
    "x": {"field": "x", "type": "quantitative", "scale": {"domain": [0, 180], "nice": false, "zero": false}, "axis": {"orient": "bottom", "values": [0,10,20,30,40,50,60,70,80,90,100,110,120,130,140,150,160,170,180], "ticks": false, "labelPadding": 3, "title": "O···O···O angle (°)", "titlePadding": 12}},
    "y": {"field": "y", "type": "quantitative", "scale": {"domain": [0, 0.02], "nice": false}, "axis": {"orient": "left", "values": [0,0.005,0.01,0.015,0.02], "format": ".3f", "ticks": false, "labelPadding": 4, "title": "Normalized number of H-bonds", "titlePadding": 14}},
    "color": {"field": "s", "type": "ordinal", "scale": {"domain": [1,2,3], "range": ["#1a1a1a", "#000000", "#d0d0d0"]}, "legend": {"title": null, "orient": "none", "legendX": 23, "legendY": 60, "labelExpr": "datum.value == 1 ? 'Slab 27 – 30Å' : datum.value == 2 ? 'Slab 24 – 27Å' : 'Slab 21 – 24Å'"}},
    "strokeDash": {"field": "s", "type": "ordinal", "scale": {"domain": [1,2,3], "range": [[1,0],[3,7],[1,0]]}, "legend": {"title": null, "orient": "none", "legendX": 23, "legendY": 60, "labelExpr": "datum.value == 1 ? 'Slab 27 – 30Å' : datum.value == 2 ? 'Slab 24 – 27Å' : 'Slab 21 – 24Å'"}},
    "strokeWidth": {"field": "s", "type": "ordinal", "scale": {"domain": [1,2,3], "range": [1,3.2,1.3]}, "legend": {"title": null, "orient": "none", "legendX": 23, "legendY": 60, "labelExpr": "datum.value == 1 ? 'Slab 27 – 30Å' : datum.value == 2 ? 'Slab 24 – 27Å' : 'Slab 21 – 24Å'"}}
   }},
  {"mark": {"type": "line", "strokeOpacity": 0},
   "encoding": {
    "x": {"field": "x", "type": "quantitative", "scale": {"domain": [0, 180], "nice": false, "zero": false}, "axis": {"orient": "bottom", "values": [0,10,20,30,40,50,60,70,80,90,100,110,120,130,140,150,160,170,180], "tickSize": -9, "labels": false, "title": null}},
    "y": {"field": "y", "type": "quantitative", "scale": {"domain": [0, 0.02], "nice": false}, "axis": {"orient": "left", "values": [0,0.005,0.01,0.015,0.02], "tickSize": -9, "labels": false, "title": null}}
   }},
  {"mark": {"type": "line", "strokeOpacity": 0},
   "encoding": {
    "x": {"field": "x", "type": "quantitative", "scale": {"domain": [0, 180], "nice": false, "zero": false}, "axis": {"orient": "bottom", "values": [5,15,25,35,45,55,65,75,85,95,105,115,125,135,145,155,165,175], "tickSize": -5, "labels": false, "title": null}},
    "y": {"field": "y", "type": "quantitative", "scale": {"domain": [0, 0.02], "nice": false}, "axis": {"orient": "left", "values": [0.0025,0.0075,0.0125,0.0175], "tickSize": -5, "labels": false, "title": null}}
   }},
  {"mark": {"type": "line", "strokeOpacity": 0},
   "encoding": {
    "x": {"field": "x", "type": "quantitative", "scale": {"domain": [0, 180], "nice": false, "zero": false}, "axis": {"orient": "top", "values": [0,10,20,30,40,50,60,70,80,90,100,110,120,130,140,150,160,170,180], "tickSize": -9, "labels": false, "title": null}},
    "y": {"field": "y", "type": "quantitative", "scale": {"domain": [0, 0.02], "nice": false}, "axis": {"orient": "right", "values": [0,0.005,0.01,0.015,0.02], "tickSize": -9, "labels": false, "title": null}}
   }},
  {"mark": {"type": "line", "strokeOpacity": 0},
   "encoding": {
    "x": {"field": "x", "type": "quantitative", "scale": {"domain": [0, 180], "nice": false, "zero": false}, "axis": {"orient": "top", "values": [5,15,25,35,45,55,65,75,85,95,105,115,125,135,145,155,165,175], "tickSize": -5, "labels": false, "title": null}},
    "y": {"field": "y", "type": "quantitative", "scale": {"domain": [0, 0.02], "nice": false}, "axis": {"orient": "right", "values": [0.0025,0.0075,0.0125,0.0175], "tickSize": -5, "labels": false, "title": null}}
   }},
  {"data": {"values": [{"t": "B"}]},
   "mark": {"type": "text", "align": "left", "baseline": "alphabetic", "fontSize": 34, "color": "#111"},
   "encoding": {"text": {"field": "t"},
    "x": {"datum": 8, "type": "quantitative", "scale": {"domain": [0, 180], "nice": false, "zero": false}, "axis": null},
    "y": {"datum": 0.0174, "type": "quantitative", "scale": {"domain": [0, 0.02], "nice": false}, "axis": null}}},
  {"data": {"values": [{"t": "(011) – hydrophobic side"}]},
   "mark": {"type": "text", "align": "right", "baseline": "alphabetic", "fontSize": 26, "fontWeight": "bold", "color": "#111"},
   "encoding": {"text": {"field": "t"},
    "x": {"datum": 169.8, "type": "quantitative", "scale": {"domain": [0, 180], "nice": false, "zero": false}, "axis": null},
    "y": {"datum": 0.0177, "type": "quantitative", "scale": {"domain": [0, 0.02], "nice": false}, "axis": null}}}
 ]
}
], "spacing": 24, "resolve": {"scale": {"color": "independent", "strokeDash": "independent", "strokeWidth": "independent"}}},
{"vconcat": [
{
 "width": 511, "height": 321,
 "data": {"name": "C"},
 "resolve": {"axis": {"x": "independent", "y": "independent"}},
 "layer": [
  {"mark": {"type": "line", "interpolate": "step", "strokeCap": "butt"},
   "encoding": {
    "x": {"field": "x", "type": "quantitative", "scale": {"domain": [0, 180], "nice": false, "zero": false}, "axis": {"orient": "bottom", "values": [0,10,20,30,40,50,60,70,80,90,100,110,120,130,140,150,160,170,180], "ticks": false, "labelPadding": 3, "title": "O···O···O angle (°)", "titlePadding": 7}},
    "y": {"field": "y", "type": "quantitative", "scale": {"domain": [0, 0.02], "nice": false}, "axis": {"orient": "left", "values": [0,0.005,0.01,0.015,0.02], "format": ".3f", "ticks": false, "labelPadding": 4, "title": "Normalized number of H-bonds", "titlePadding": 14}},
    "color": {"field": "s", "type": "ordinal", "scale": {"domain": [1,2,3], "range": ["#1a1a1a", "#000000", "#d0d0d0"]}, "legend": {"title": null, "orient": "none", "legendX": 349, "legendY": 57, "labelExpr": "datum.value == 1 ? 'Slab 0 – 2Å' : datum.value == 2 ? 'Slab 2 – 5Å' : 'Slab 5 – 9Å'"}},
    "strokeDash": {"field": "s", "type": "ordinal", "scale": {"domain": [1,2,3], "range": [[1,0],[3,7],[1,0]]}, "legend": {"title": null, "orient": "none", "legendX": 349, "legendY": 57, "labelExpr": "datum.value == 1 ? 'Slab 0 – 2Å' : datum.value == 2 ? 'Slab 2 – 5Å' : 'Slab 5 – 9Å'"}},
    "strokeWidth": {"field": "s", "type": "ordinal", "scale": {"domain": [1,2,3], "range": [1,3.2,1.3]}, "legend": {"title": null, "orient": "none", "legendX": 349, "legendY": 57, "labelExpr": "datum.value == 1 ? 'Slab 0 – 2Å' : datum.value == 2 ? 'Slab 2 – 5Å' : 'Slab 5 – 9Å'"}}
   }},
  {"mark": {"type": "line", "strokeOpacity": 0},
   "encoding": {
    "x": {"field": "x", "type": "quantitative", "scale": {"domain": [0, 180], "nice": false, "zero": false}, "axis": {"orient": "bottom", "values": [0,10,20,30,40,50,60,70,80,90,100,110,120,130,140,150,160,170,180], "tickSize": -9, "labels": false, "title": null}},
    "y": {"field": "y", "type": "quantitative", "scale": {"domain": [0, 0.02], "nice": false}, "axis": {"orient": "left", "values": [0,0.005,0.01,0.015,0.02], "tickSize": -9, "labels": false, "title": null}}
   }},
  {"mark": {"type": "line", "strokeOpacity": 0},
   "encoding": {
    "x": {"field": "x", "type": "quantitative", "scale": {"domain": [0, 180], "nice": false, "zero": false}, "axis": {"orient": "bottom", "values": [5,15,25,35,45,55,65,75,85,95,105,115,125,135,145,155,165,175], "tickSize": -5, "labels": false, "title": null}},
    "y": {"field": "y", "type": "quantitative", "scale": {"domain": [0, 0.02], "nice": false}, "axis": {"orient": "left", "values": [0.0025,0.0075,0.0125,0.0175], "tickSize": -5, "labels": false, "title": null}}
   }},
  {"mark": {"type": "line", "strokeOpacity": 0},
   "encoding": {
    "x": {"field": "x", "type": "quantitative", "scale": {"domain": [0, 180], "nice": false, "zero": false}, "axis": {"orient": "top", "values": [0,10,20,30,40,50,60,70,80,90,100,110,120,130,140,150,160,170,180], "tickSize": -9, "labels": false, "title": null}},
    "y": {"field": "y", "type": "quantitative", "scale": {"domain": [0, 0.02], "nice": false}, "axis": {"orient": "right", "values": [0,0.005,0.01,0.015,0.02], "tickSize": -9, "labels": false, "title": null}}
   }},
  {"mark": {"type": "line", "strokeOpacity": 0},
   "encoding": {
    "x": {"field": "x", "type": "quantitative", "scale": {"domain": [0, 180], "nice": false, "zero": false}, "axis": {"orient": "top", "values": [5,15,25,35,45,55,65,75,85,95,105,115,125,135,145,155,165,175], "tickSize": -5, "labels": false, "title": null}},
    "y": {"field": "y", "type": "quantitative", "scale": {"domain": [0, 0.02], "nice": false}, "axis": {"orient": "right", "values": [0.0025,0.0075,0.0125,0.0175], "tickSize": -5, "labels": false, "title": null}}
   }},
  {"data": {"values": [{"t": "C"}]},
   "mark": {"type": "text", "align": "left", "baseline": "alphabetic", "fontSize": 34, "color": "#111"},
   "encoding": {"text": {"field": "t"},
    "x": {"datum": 9.9, "type": "quantitative", "scale": {"domain": [0, 180], "nice": false, "zero": false}, "axis": null},
    "y": {"datum": 0.0168, "type": "quantitative", "scale": {"domain": [0, 0.02], "nice": false}, "axis": null}}},
  {"data": {"values": [{"t": "(100) – hydrophilic side"}]},
   "mark": {"type": "text", "align": "right", "baseline": "alphabetic", "fontSize": 26, "fontWeight": "bold", "color": "#111"},
   "encoding": {"text": {"field": "t"},
    "x": {"datum": 175.4, "type": "quantitative", "scale": {"domain": [0, 180], "nice": false, "zero": false}, "axis": null},
    "y": {"datum": 0.0174, "type": "quantitative", "scale": {"domain": [0, 0.02], "nice": false}, "axis": null}}}
 ]
},
{
 "width": 509, "height": 318,
 "data": {"name": "D"},
 "resolve": {"axis": {"x": "independent", "y": "independent"}},
 "layer": [
  {"mark": {"type": "line", "interpolate": "step", "strokeCap": "butt"},
   "encoding": {
    "x": {"field": "x", "type": "quantitative", "scale": {"domain": [0, 180], "nice": false, "zero": false}, "axis": {"orient": "bottom", "values": [0,10,20,30,40,50,60,70,80,90,100,110,120,130,140,150,160,170,180], "ticks": false, "labelPadding": 3, "title": "O···O···O angle (°)", "titlePadding": 10}},
    "y": {"field": "y", "type": "quantitative", "scale": {"domain": [0, 0.02], "nice": false}, "axis": {"orient": "left", "values": [0,0.005,0.01,0.015,0.02], "format": ".3f", "ticks": false, "labelPadding": 4, "title": "Normalized number of H-bonds", "titlePadding": 14}},
    "color": {"field": "s", "type": "ordinal", "scale": {"domain": [1,2,3], "range": ["#1a1a1a", "#000000", "#d0d0d0"]}, "legend": {"title": null, "orient": "none", "legendX": 7, "legendY": 41, "labelExpr": "datum.value == 1 ? 'Slab 31.5 – 33Å' : datum.value == 2 ? 'Slab 29 – 31.5Å' : 'Slab 25 – 29Å'"}},
    "strokeDash": {"field": "s", "type": "ordinal", "scale": {"domain": [1,2,3], "range": [[1,0],[3,7],[1,0]]}, "legend": {"title": null, "orient": "none", "legendX": 7, "legendY": 41, "labelExpr": "datum.value == 1 ? 'Slab 31.5 – 33Å' : datum.value == 2 ? 'Slab 29 – 31.5Å' : 'Slab 25 – 29Å'"}},
    "strokeWidth": {"field": "s", "type": "ordinal", "scale": {"domain": [1,2,3], "range": [1,3.2,1.3]}, "legend": {"title": null, "orient": "none", "legendX": 7, "legendY": 41, "labelExpr": "datum.value == 1 ? 'Slab 31.5 – 33Å' : datum.value == 2 ? 'Slab 29 – 31.5Å' : 'Slab 25 – 29Å'"}}
   }},
  {"mark": {"type": "line", "strokeOpacity": 0},
   "encoding": {
    "x": {"field": "x", "type": "quantitative", "scale": {"domain": [0, 180], "nice": false, "zero": false}, "axis": {"orient": "bottom", "values": [0,10,20,30,40,50,60,70,80,90,100,110,120,130,140,150,160,170,180], "tickSize": -9, "labels": false, "title": null}},
    "y": {"field": "y", "type": "quantitative", "scale": {"domain": [0, 0.02], "nice": false}, "axis": {"orient": "left", "values": [0,0.005,0.01,0.015,0.02], "tickSize": -9, "labels": false, "title": null}}
   }},
  {"mark": {"type": "line", "strokeOpacity": 0},
   "encoding": {
    "x": {"field": "x", "type": "quantitative", "scale": {"domain": [0, 180], "nice": false, "zero": false}, "axis": {"orient": "bottom", "values": [5,15,25,35,45,55,65,75,85,95,105,115,125,135,145,155,165,175], "tickSize": -5, "labels": false, "title": null}},
    "y": {"field": "y", "type": "quantitative", "scale": {"domain": [0, 0.02], "nice": false}, "axis": {"orient": "left", "values": [0.0025,0.0075,0.0125,0.0175], "tickSize": -5, "labels": false, "title": null}}
   }},
  {"mark": {"type": "line", "strokeOpacity": 0},
   "encoding": {
    "x": {"field": "x", "type": "quantitative", "scale": {"domain": [0, 180], "nice": false, "zero": false}, "axis": {"orient": "top", "values": [0,10,20,30,40,50,60,70,80,90,100,110,120,130,140,150,160,170,180], "tickSize": -9, "labels": false, "title": null}},
    "y": {"field": "y", "type": "quantitative", "scale": {"domain": [0, 0.02], "nice": false}, "axis": {"orient": "right", "values": [0,0.005,0.01,0.015,0.02], "tickSize": -9, "labels": false, "title": null}}
   }},
  {"mark": {"type": "line", "strokeOpacity": 0},
   "encoding": {
    "x": {"field": "x", "type": "quantitative", "scale": {"domain": [0, 180], "nice": false, "zero": false}, "axis": {"orient": "top", "values": [5,15,25,35,45,55,65,75,85,95,105,115,125,135,145,155,165,175], "tickSize": -5, "labels": false, "title": null}},
    "y": {"field": "y", "type": "quantitative", "scale": {"domain": [0, 0.02], "nice": false}, "axis": {"orient": "right", "values": [0.0025,0.0075,0.0125,0.0175], "tickSize": -5, "labels": false, "title": null}}
   }},
  {"data": {"values": [{"t": "D"}]},
   "mark": {"type": "text", "align": "left", "baseline": "alphabetic", "fontSize": 34, "color": "#111"},
   "encoding": {"text": {"field": "t"},
    "x": {"datum": 8.5, "type": "quantitative", "scale": {"domain": [0, 180], "nice": false, "zero": false}, "axis": null},
    "y": {"datum": 0.0176, "type": "quantitative", "scale": {"domain": [0, 0.02], "nice": false}, "axis": null}}},
  {"data": {"values": [{"t": "(100) – hydrophobic side"}]},
   "mark": {"type": "text", "align": "right", "baseline": "alphabetic", "fontSize": 26, "fontWeight": "bold", "color": "#111"},
   "encoding": {"text": {"field": "t"},
    "x": {"datum": 178.2, "type": "quantitative", "scale": {"domain": [0, 180], "nice": false, "zero": false}, "axis": null},
    "y": {"datum": 0.0180, "type": "quantitative", "scale": {"domain": [0, 0.02], "nice": false}, "axis": null}}}
 ]
}
], "spacing": 19, "resolve": {"scale": {"color": "independent", "strokeDash": "independent", "strokeWidth": "independent"}}}
],
"spacing": 19
}
